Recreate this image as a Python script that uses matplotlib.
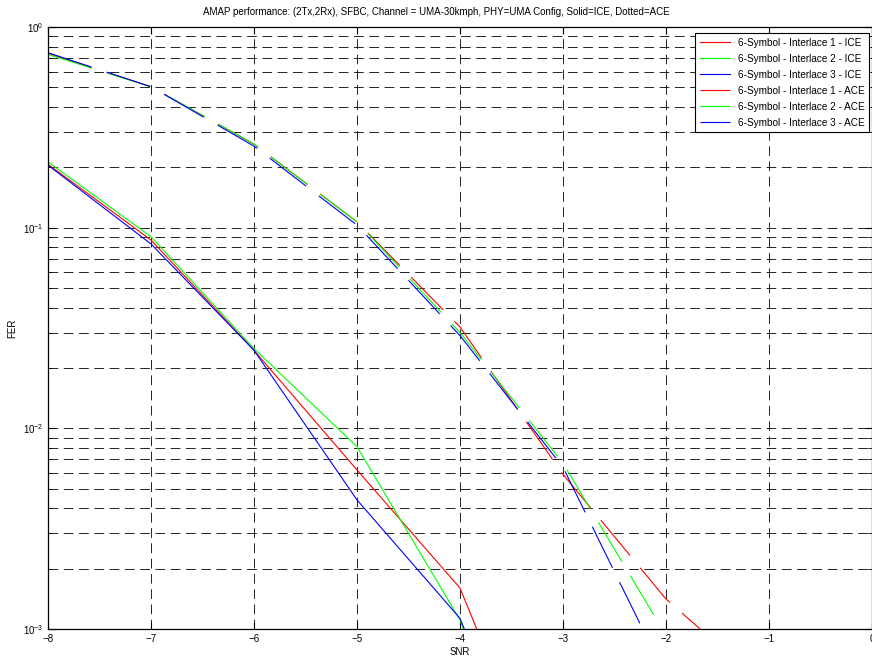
import numpy as np
import matplotlib
matplotlib.use('Agg')
import matplotlib.pyplot as plt
from matplotlib.ticker import LogLocator, FixedLocator

plt.rcParams['font.family'] = ['Liberation Sans', 'DejaVu Sans']
plt.rcParams['lines.scale_dashes'] = False

## SNR points
snr_ice = [-8, -7, -6, -5, -4, -3]
snr_ace = [-8, -7, -6, -5, -4, -3, -2, -1]

## FER, solid = ICE
ice_1 = [0.207, 0.0868, 0.0245, 0.0062, 0.00160, 0.000089]
ice_2 = [0.213, 0.0902, 0.0250, 0.0081, 0.00111, 0.00005]
ice_3 = [0.205, 0.0830, 0.0245, 0.0044, 0.00113, 0.00006]

## FER, dashed = ACE
ace_1 = [0.740, 0.504, 0.261, 0.107, 0.0320, 0.0059, 0.00141, 0.00050]
ace_2 = [0.731, 0.504, 0.261, 0.107, 0.0300, 0.0067, 0.00093, 0.00013]
ace_3 = [0.745, 0.504, 0.255, 0.103, 0.0290, 0.0064, 0.00058, 0.00005]

labels = ['6-Symbol - Interlace 1 - ICE', '6-Symbol - Interlace 2 - ICE',
          '6-Symbol - Interlace 3 - ICE', '6-Symbol - Interlace 1 - ACE',
          '6-Symbol - Interlace 2 - ACE', '6-Symbol - Interlace 3 - ACE']
colors = ['#ff0000', '#00ff00', '#0000ff']

fig = plt.figure(figsize=(8.72, 6.6), dpi=100)
ax = fig.add_axes([0.055, 0.047, 0.945, 0.912])

for y, c, lab in zip([ice_1, ice_2, ice_3], colors, labels[:3]):
    ax.semilogy(snr_ice, y, color=c, lw=0.8, label=lab)
for y, c, lab in zip([ace_1, ace_2, ace_3], colors, labels[3:]):
    ln, = ax.semilogy(snr_ace, y, color=c, lw=0.8, label=lab)
    ln.set_dashes((33, 11.5))

ax.set_xlim(-8, 0)
ax.set_ylim(1e-3, 1)
ax.xaxis.set_major_locator(FixedLocator(range(-8, 1)))
ax.yaxis.set_major_locator(LogLocator(base=10, numticks=10))
ax.yaxis.set_minor_locator(LogLocator(base=10, subs=np.arange(2, 10), numticks=10))
ax.yaxis.set_minor_formatter(plt.NullFormatter())

ax.grid(True, which='major', axis='both', color='k', lw=0.6, linestyle=(0, (7, 4)))
ax.grid(True, which='minor', axis='y', color='k', lw=0.6, linestyle=(0, (7, 4)))

ax.tick_params(which='both', direction='in', top=True, right=True, labelsize=7)
ax.tick_params(which='major', length=5)
ax.tick_params(which='minor', length=3)
for s in ax.spines.values():
    s.set_linewidth(0.9)

ax.set_xlabel('SNR', fontsize=7, labelpad=2)
ax.set_ylabel('FER', fontsize=7, labelpad=4)
fig.text(0.5, 0.982, 'AMAP performance: (2Tx,2Rx), SFBC, Channel = UMA-30kmph, '
         'PHY=UMA Config, Solid=ICE, Dotted=ACE', ha='center', va='center', fontsize=7)

leg = ax.legend(loc='upper right', bbox_to_anchor=(1.0, 0.995), fontsize=7.2,
                handlelength=3.0, fancybox=False, framealpha=1, edgecolor='k',
                borderpad=0.45, labelspacing=0.6, borderaxespad=0.3)
leg.get_frame().set_linewidth(0.8)

fig.savefig('out.png', dpi=100)
